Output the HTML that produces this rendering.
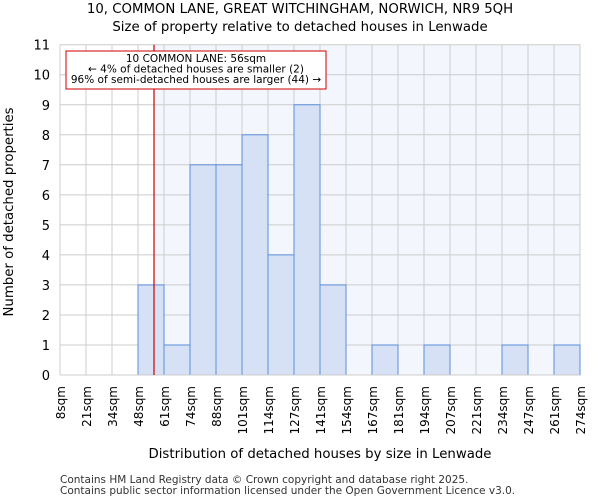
<!DOCTYPE html>
<html><head><meta charset="utf-8"><style>
body{margin:0;background:#fff}
svg{font-family:"DejaVu Sans","Liberation Sans",sans-serif;display:block}
</style></head><body>
<svg id="chart" width="600" height="500" viewBox="0 0 600 500">
<text x="300" y="13" text-anchor="middle" font-size="13.3">10, COMMON LANE, GREAT WITCHINGHAM, NORWICH, NR9 5QH</text>
<text x="300" y="31" text-anchor="middle" font-size="13.3">Size of property relative to detached houses in Lenwade</text>
<g id="plot"></g>
<text x="320" y="458" text-anchor="middle" font-size="13.3">Distribution of detached houses by size in Lenwade</text>
<text transform="translate(13,212) rotate(-90)" text-anchor="middle" font-size="13.3">Number of detached properties</text>
<text x="60" y="483" font-size="10.5" fill="#333">Contains HM Land Registry data © Crown copyright and database right 2025.</text>
<text x="60" y="494" font-size="10.5" fill="#333">Contains public sector information licensed under the Open Government Licence v3.0.</text>
</svg>
<script>
const binLabels=["8sqm","21sqm","34sqm","48sqm","61sqm","74sqm","88sqm","101sqm","114sqm","127sqm","141sqm","154sqm","167sqm","181sqm","194sqm","207sqm","221sqm","234sqm","247sqm","261sqm","274sqm"];
const binEdges=[8,21,34,48,61,74,88,101,114,127,141,154,167,181,194,207,221,234,247,261,274];
const counts=[0,0,0,3,1,7,7,8,4,9,3,0,1,0,1,0,0,1,0,1];
const yTicks=[0,1,2,3,4,5,6,7,8,9,10,11];
const propertySize=56;
const NS="http://www.w3.org/2000/svg";
const L=60,R=580,T=44.7,B=375,yMax=11;
const g=document.getElementById('plot');
const nb=binLabels.length-1, bw=(R-L)/nb;
function xi(i){return L+i*bw;}
function xv(v){for(let i=0;i<nb;i++){if(v<=binEdges[i+1])return xi(i)+(v-binEdges[i])/(binEdges[i+1]-binEdges[i])*bw;}return R;}
function y(v){return B-(v/yMax)*(B-T);}
function mk(t,a){const e=document.createElementNS(NS,t);for(const k in a)e.setAttribute(k,a[k]);g.appendChild(e);return e;}
const px=xv(propertySize);
let e=mk('rect',{x:px,y:T,width:R-px,height:B-T,fill:'#f3f6fd'});


yTicks.forEach(t=>{let l=mk('line',{x1:L,x2:R,y1:y(t),y2:y(t),stroke:'#ccc','stroke-width':1});


let tx=mk('text',{x:L-10,y:y(t)+5,'text-anchor':'end','font-size':13});tx.textContent=t;

});
binLabels.forEach((s,i)=>{let l=mk('line',{x1:xi(i),x2:xi(i),y1:T,y2:B,stroke:'#ccc','stroke-width':1});


let tx=mk('text',{transform:`translate(${xi(i)+5},386) rotate(-90)`,'text-anchor':'end','font-size':12});tx.textContent=s;

});
counts.forEach((c,i)=>{if(c<=0)return;let r=mk('rect',{x:xi(i),y:y(c),width:bw,height:B-y(c),fill:'#d6e1f5',stroke:'#5b8fd8','stroke-width':1});

});
let ax=mk('line',{x1:L,x2:R,y1:B,y2:B,stroke:'#ccc'});


let ml=mk('line',{x1:px,x2:px,y1:T,y2:B,stroke:'#cc0000','stroke-width':1.2});


let bx=mk('rect',{x:66,y:51,width:260,height:38,fill:'#fff',stroke:'#cc0000','stroke-width':1});


["10 COMMON LANE: 56sqm","← 4% of detached houses are smaller (2)","96% of semi-detached houses are larger (44) →"].forEach((s,i)=>{let t=mk('text',{x:196,y:62+i*10.5,'text-anchor':'middle','font-size':10.5});t.textContent=s;

});
</script>
</body></html>
